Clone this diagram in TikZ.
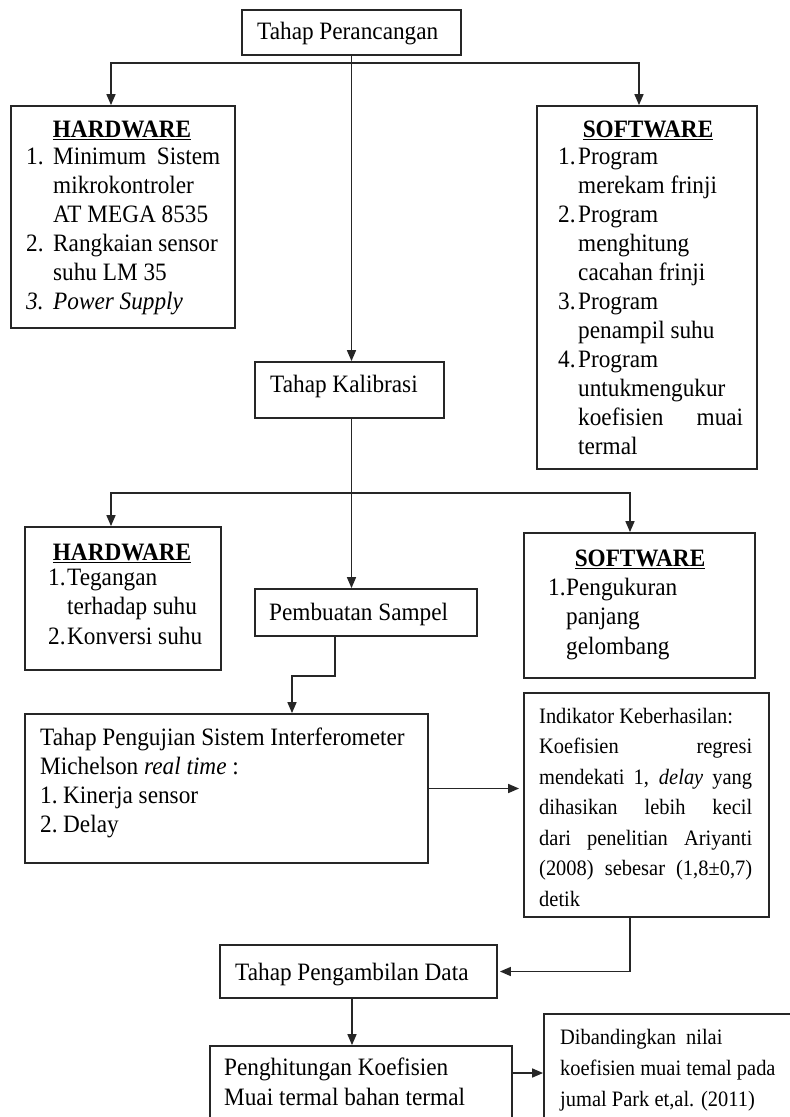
\documentclass[tikz,border=0pt]{standalone}
\usepackage{fontspec}
\setmainfont{Liberation Serif}[FakeStretch=0.93]
\usetikzlibrary{arrows.meta,calc}
\tikzset{
  box/.style={draw=black!85, line width=1.8pt, inner sep=0pt, rectangle},
  arr/.style={draw=black!85, line width=1.6pt, -{Triangle[length=11pt,width=9pt]}},
  txt/.style={inner sep=0pt, anchor=base west, font=\fontsize{25}{29}\selectfont},
  stxt/.style={inner sep=0pt, anchor=base west, font=\fontsize{22}{30.5}\selectfont},
  ttl/.style={inner sep=0pt, anchor=base, font=\fontsize{25}{29}\selectfont\bfseries},
}
\begin{document}
\begin{tikzpicture}[x=1pt,y=-1pt]
\useasboundingbox (0,0) rectangle (790,1117);
\clip (0,0) rectangle (790,1117);
\fill[white] (0,0) rectangle (790,1117);

% boxes
\node[box, minimum width=219pt, minimum height=45pt] (perancangan) at (351.5,32.5) {};
\node[box, minimum width=224pt, minimum height=222pt] (hw1) at (123,217) {};
\node[box, minimum width=220pt, minimum height=363pt] (sw1) at (647,287.5) {};
\node[box, minimum width=189pt, minimum height=56pt] (kalibrasi) at (349.5,390) {};
\node[box, minimum width=196pt, minimum height=143pt] (hw2) at (123,598.5) {};
\node[box, minimum width=231pt, minimum height=145pt] (sw2) at (639.5,605.5) {};
\node[box, minimum width=222pt, minimum height=47pt] (pembuatan) at (366,612.5) {};
\node[box, minimum width=403pt, minimum height=149pt] (pengujian) at (226.5,788.5) {};
\node[box, minimum width=245pt, minimum height=224pt] (indikator) at (646.5,805) {};
\node[box, minimum width=277pt, minimum height=53pt] (pengambilan) at (358.5,971.5) {};
\node[box, minimum width=302pt, minimum height=84pt] (penghitungan) at (361,1088) {};
\node[box, minimum width=256pt, minimum height=111pt] (dibandingkan) at (672,1069.5) {};

% texts
\node[txt] (tPer) at (257,39) {Tahap Perancangan};

\node[ttl] (tHw1) at (122,137) {\underline{HARDWARE}};
\node[txt] (lHw1) at (26,164) {\begin{minipage}[t]{210pt}
\makebox[27pt][l]{1.}\makebox[167pt][s]{Minimum Sistem}\\
\hspace*{27pt}mikrokontroler\\
\hspace*{27pt}AT MEGA 8535\\
\makebox[27pt][l]{2.}Rangkaian sensor\\
\hspace*{27pt}suhu LM 35\\
\makebox[27pt][l]{\itshape 3.}\textit{Power Supply}
\end{minipage}};

\node[ttl] (tSw1) at (648,137) {\underline{SOFTWARE}};
\node[txt] (lSw1) at (558,164) {\begin{minipage}[t]{200pt}
\makebox[20pt][l]{1.}Program\\
\hspace*{20pt}merekam frinji\\
\makebox[20pt][l]{2.}Program\\
\hspace*{20pt}menghitung\\
\hspace*{20pt}cacahan frinji\\
\makebox[20pt][l]{3.}Program\\
\hspace*{20pt}penampil suhu\\
\makebox[20pt][l]{4.}Program\\
\hspace*{20pt}untukmengukur\\
\hspace*{20pt}\makebox[165pt][s]{koefisien muai}\\
\hspace*{20pt}termal
\end{minipage}};

\node[txt] (tKal) at (270,392) {Tahap Kalibrasi};

\node[ttl] (tHw2) at (122,560) {\underline{HARDWARE}};
\node[txt, font=\fontsize{25}{29.5}\selectfont] (lHw2) at (48,585) {\begin{minipage}[t]{170pt}
\makebox[19pt][l]{1.}Tegangan\\
\hspace*{19pt}terhadap suhu\\
\makebox[19pt][l]{2.}Konversi suhu
\end{minipage}};

\node[ttl] (tSw2) at (640,566) {\underline{SOFTWARE}};
\node[txt, font=\fontsize{25}{29.5}\selectfont] (lSw2) at (548,595) {\begin{minipage}[t]{200pt}
\makebox[18pt][l]{1.}Pengukuran\\
\hspace*{18pt}panjang\\
\hspace*{18pt}gelombang
\end{minipage}};

\node[txt] (tPem) at (269,620) {Pembuatan Sampel};

\node[txt] (tUji) at (40,745) {\begin{minipage}[t]{385pt}
Tahap Pengujian Sistem Interferometer\\
Michelson \textit{real time} :\\
\makebox[23pt][l]{1.}Kinerja sensor\\
\makebox[23pt][l]{2.}Delay
\end{minipage}};

\node[stxt] (tInd) at (539,723) {\begin{minipage}[t]{213pt}
Indikator Keberhasilan:\\
\makebox[213pt][s]{Koefisien regresi}\\
\makebox[213pt][s]{mendekati 1, \textit{delay} yang}\\
\makebox[213pt][s]{dihasikan lebih kecil}\\
\makebox[213pt][s]{dari penelitian Ariyanti}\\
\makebox[213pt][s]{(2008) sebesar (1,8±0,7)}\\
detik
\end{minipage}};

\node[txt] (tAmb) at (235,980) {Tahap Pengambilan Data};

\node[txt, font=\fontsize{25}{30}\selectfont] (tHit) at (224,1075) {\begin{minipage}[t]{285pt}
Penghitungan Koefisien\\
Muai termal bahan termal
\end{minipage}};

\node[stxt, font=\fontsize{22}{31}\selectfont] (tBan) at (560,1044) {\begin{minipage}[t]{240pt}
Dibandingkan\hspace{10pt}nilai\\
koefisien muai temal pada\\
jumal Park et,al. (2011)
\end{minipage}};

% connectors
\coordinate (j1) at (351.5,63);
\coordinate (j2) at (351.5,493);
\draw[arr] (perancangan.south) -- (perancangan.south |- kalibrasi.north);
\draw[arr] (j1) -| ([xshift=-12pt]hw1.north);
\draw[arr] (j1) -| ([xshift=-8pt]sw1.north);
\draw[arr] ([xshift=2pt]kalibrasi.south) -- ([xshift=2pt]kalibrasi.south |- pembuatan.north);
\draw[arr] (j2) -| ([xshift=-12pt]hw2.north);
\draw[arr] (j2) -| ([xshift=-9.5pt]sw2.north);
\draw[arr] ([xshift=-31pt]pembuatan.south) -- ++(0pt,-39pt) -| ([xshift=65.5pt]pengujian.north);
\draw[arr, shorten >=4pt] (pengujian.east) -- (pengujian.east -| indikator.west);
\draw[arr, shorten >=2pt] ([xshift=-16.5pt]indikator.south) |- (pengambilan.east);
\draw[arr] ([xshift=-6.5pt]pengambilan.south) -- ([xshift=-6.5pt]pengambilan.south |- penghitungan.north);
\draw[arr] ([yshift=15pt]penghitungan.east) -- ([yshift=15pt]penghitungan.east -| dibandingkan.west);
\end{tikzpicture}
\end{document}
